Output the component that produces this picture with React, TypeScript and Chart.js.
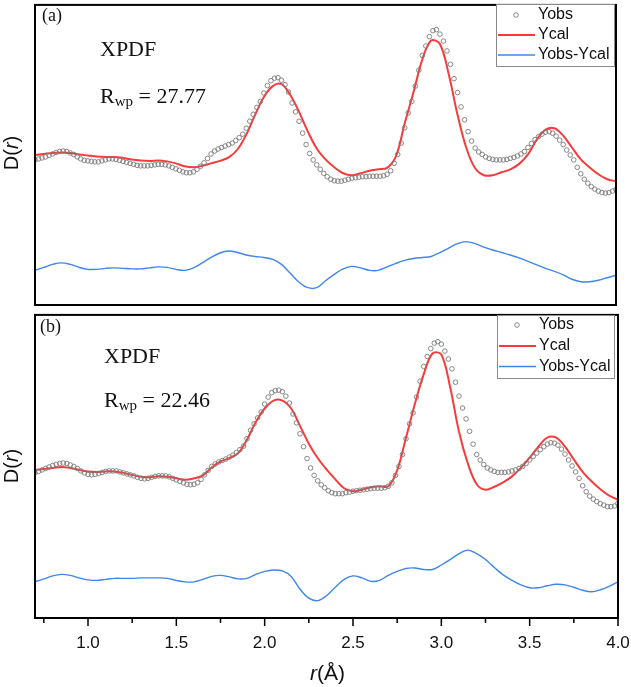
import React, { useEffect, useRef } from "react";
import { Chart, registerables } from "chart.js";

Chart.register(...registerables);

// r sampling (Å) for the fitted curves
const lineR = [
  0.7, 0.75, 0.8, 0.85, 0.9, 0.95, 1.0, 1.05, 1.1, 1.15,
  1.2, 1.25, 1.3, 1.35, 1.4, 1.45, 1.5, 1.55, 1.6, 1.65,
  1.7, 1.75, 1.8, 1.85, 1.9, 1.95, 2.0, 2.05, 2.1, 2.15,
  2.2, 2.25, 2.3, 2.35, 2.4, 2.45, 2.5, 2.55, 2.6, 2.65,
  2.7, 2.75, 2.8, 2.85, 2.9, 2.95, 3.0, 3.05, 3.1, 3.15,
  3.2, 3.25, 3.3, 3.35, 3.4, 3.45, 3.5, 3.55, 3.6, 3.65,
  3.7, 3.75, 3.8, 3.85, 3.9, 3.95, 4.0,
];

// r sampling (Å) for the observed points
const obsR = [
  0.7, 0.72, 0.74, 0.76, 0.78, 0.8, 0.82, 0.84, 0.86, 0.88,
  0.9, 0.92, 0.94, 0.96, 0.98, 1.0, 1.02, 1.04, 1.06, 1.08,
  1.1, 1.12, 1.14, 1.16, 1.18, 1.2, 1.22, 1.24, 1.26, 1.28,
  1.3, 1.32, 1.34, 1.36, 1.38, 1.4, 1.42, 1.44, 1.46, 1.48,
  1.5, 1.52, 1.54, 1.56, 1.58, 1.6, 1.62, 1.64, 1.66, 1.68,
  1.7, 1.72, 1.74, 1.76, 1.78, 1.8, 1.82, 1.84, 1.86, 1.88,
  1.9, 1.92, 1.94, 1.96, 1.98, 2.0, 2.02, 2.04, 2.06, 2.08,
  2.1, 2.12, 2.14, 2.16, 2.18, 2.2, 2.22, 2.24, 2.26, 2.28,
  2.3, 2.32, 2.34, 2.36, 2.38, 2.4, 2.42, 2.44, 2.46, 2.48,
  2.5, 2.52, 2.54, 2.56, 2.58, 2.6, 2.62, 2.64, 2.66, 2.68,
  2.7, 2.72, 2.74, 2.76, 2.78, 2.8, 2.82, 2.84, 2.86, 2.88,
  2.9, 2.92, 2.94, 2.96, 2.98, 3.0, 3.02, 3.04, 3.06, 3.08,
  3.1, 3.12, 3.14, 3.16, 3.18, 3.2, 3.22, 3.24, 3.26, 3.28,
  3.3, 3.32, 3.34, 3.36, 3.38, 3.4, 3.42, 3.44, 3.46, 3.48,
  3.5, 3.52, 3.54, 3.56, 3.58, 3.6, 3.62, 3.64, 3.66, 3.68,
  3.7, 3.72, 3.74, 3.76, 3.78, 3.8, 3.82, 3.84, 3.86, 3.88,
  3.9, 3.92, 3.94, 3.96, 3.98, 4.0,
];

// Panel (a): D(r), arbitrary units (curves offset vertically)
const obsA = [
  146.5, 147.5, 148.5, 149.5, 151, 152.5, 154, 155, 155.5, 155,
  153.5, 152, 149.5, 147.5, 146, 145.5, 145, 144.5, 144.5, 145.5,
  146.5, 147.5, 147.5, 147, 146, 145, 144, 143, 142, 141,
  140.5, 140.5, 140.5, 141, 141.5, 142, 142, 141.5, 140.5, 139,
  137.5, 136, 134.5, 133.5, 133.5, 134.5, 137, 140, 143.5, 148,
  152.5, 155.5, 157.5, 159, 160.5, 162, 163.5, 166, 169, 172.5,
  178.5, 185.5, 192.5, 199.5, 205.5, 214, 221.5, 226.5, 229, 229.5,
  227, 222.5, 215, 204, 195, 185.5, 173.5, 162, 153, 146.5,
  141.5, 137, 133, 129.5, 127, 125.5, 125, 125, 126, 127,
  128, 128.5, 129, 129.5, 129.5, 130, 130, 130, 130, 130.5,
  132, 135.5, 143, 152, 163.5, 179, 194, 205.5, 221, 237,
  252, 261.5, 271, 277, 278, 273.5, 266.5, 256.5, 243, 228.5,
  214.5, 200, 187, 175, 165.5, 158.5, 154.5, 152, 149.5, 148,
  147, 146.5, 146.5, 146.5, 147, 148, 149, 150.5, 152.5, 155,
  159, 163, 167, 170, 172.5, 174.5, 175, 173.5, 170.5, 166.5,
  162, 156.5, 151.5, 146.5, 139, 132.5, 127, 123, 119.5, 117,
  115, 113.5, 113, 113.5, 115, 116.5,
];
const calA = [
  151.5, 152.5, 153.5, 154, 153.5, 152, 151, 150, 149.5, 149.5,
  148.5, 147, 146, 145.5, 146, 145, 143, 140, 139, 140.5,
  143, 145.5, 149, 157, 172, 192, 210, 221, 223, 212,
  195, 175, 158, 147, 139, 133, 131, 133, 135.5, 137,
  138.5, 150, 183.5, 215, 248, 267, 263.5, 233, 192, 158.5,
  138, 131, 131, 134, 137, 142.5, 152, 167, 177, 178.5,
  171, 159, 147, 139, 132, 127, 125,
];
const diffA = [
  35, 38, 41, 42.5, 41, 38, 36, 36, 37, 37.5,
  37, 36.5, 36.5, 37.5, 38.5, 38, 36, 35, 37.5, 42.5,
  48, 52.5, 54.5, 53, 50.5, 49, 48, 46, 41, 32,
  23, 17.5, 17.5, 24.5, 31, 36.5, 39, 37.5, 35, 35,
  38.5, 42, 45, 47, 48, 49, 53, 57.5, 62, 64,
  62, 58.5, 55.5, 53, 50.5, 47.5, 44, 40.5, 37, 34,
  30.5, 26, 23.5, 23.5, 25, 27.5, 30,
];

// Panel (b)
const obsB = [
  146.5, 148, 149.5, 151, 152.5, 154, 155, 156, 156.5, 156,
  154.5, 153, 151, 148.5, 146.5, 145, 144.5, 145, 146, 147,
  148, 148.5, 148.5, 148.5, 147.5, 146.5, 145.5, 144.5, 143.5, 142,
  141, 140.5, 141, 142, 143, 143.5, 143.5, 143.5, 142.5, 141,
  139.5, 138, 136.5, 135, 134.5, 135, 136.5, 140, 144.5, 149,
  153, 155.5, 157.5, 159, 160.5, 162.5, 164.5, 167, 170, 173.5,
  181, 189.5, 196, 202, 208, 216, 223, 227.5, 229.5, 230,
  228.5, 224, 217, 206, 197, 186, 173, 161, 151.5, 144,
  138.5, 134.5, 131.5, 128.5, 126.5, 125.5, 125.5, 125.5, 126.5, 127,
  128, 128.5, 129, 129.5, 130, 130.5, 131, 131, 131, 131.5,
  133, 136.5, 144, 153, 165, 181, 196, 207, 223, 239,
  254, 264, 272, 277.5, 279, 276.5, 269.5, 261.5, 251.5, 238,
  224, 212, 201, 188.5, 175.5, 165, 159.5, 155, 151.5, 149.5,
  148, 147, 147, 147, 147.5, 148.5, 149.5, 151, 153, 156,
  159.5, 163, 166.5, 170, 173, 175.5, 177, 176.5, 174.5, 170.5,
  165.5, 159.5, 153.5, 147.5, 141, 133.5, 127.5, 123, 120, 117.5,
  115.5, 114, 112.5, 112.5, 113, 116,
];
const calB = [
  149.5, 150.5, 151.5, 152.5, 151.5, 149.5, 148, 147.5, 148, 148,
  146.5, 144.5, 142.5, 142, 143, 142.5, 141, 139.5, 141, 144,
  152, 158, 161.5, 166.5, 180, 198, 211.5, 219.5, 219.5, 211.5,
  194, 176, 161.5, 150, 140, 131, 128, 129.5, 132, 133,
  133, 149, 182, 216, 246, 267, 266, 233, 188, 156,
  135, 129.5, 132.5, 137, 143, 151.5, 162, 173, 182, 182,
  173, 160, 147.5, 138, 130, 123.5, 119.5,
];
const diffB = [
  36.5, 39.5, 42.5, 44, 43, 40.5, 38.5, 38, 39, 40,
  40, 40, 40.5, 40.5, 40.5, 40, 38, 36.5, 36.5, 39,
  42, 43, 41.5, 39.5, 40, 44, 47, 48.5, 47.5, 42,
  29, 20, 17.5, 22.5, 31, 39, 42.5, 40.5, 37, 38,
  43, 47, 50, 50.5, 49, 49, 53.5, 59, 65, 68.5,
  65, 59, 51, 43.5, 38, 33.5, 30.5, 30.5, 32.5, 34,
  33.5, 31, 28, 26.5, 28.5, 32, 36.5,
];

const xMajorTicks = [1.0, 1.5, 2.0, 2.5, 3.0, 3.5, 4.0];
const xMinorTicks = [0.75, 1.25, 1.75, 2.25, 2.75, 3.25, 3.75];
const seriesNames = ["Yobs", "Ycal", "Yobs-Ycal"];
const panelTags = ["(a)", "(b)"];
const methodName = "XPDF";
const rwpValues = ["27.77", "22.46"];

const RED = "#F73B3B";
const BLUE = "#3F86EA";
const GREY = "#7a7a7a";
const SERIF = '"Liberation Serif", "Times New Roman", serif';
const SANS = '"Liberation Sans", Arial, sans-serif';

type PanelCfg = {
  top: number;
  height: number;
  padding: { left: number; right: number; top: number; bottom: number };
  yMax: number;
  obs: number[];
  cal: number[];
  diff: number[];
  tag: string;
  rwp: string;
  tagPos: [number, number];
  namePos: [number, number];
  rwpPos: [number, number];
  legendBox: [number, number, number, number];
  legendRows: [number, number, number];
  yTitleY: number;
  showAxis: boolean;
};

const panels: PanelCfg[] = [
  {
    top: 0,
    height: 310,
    padding: { left: 35, right: 15, top: 2, bottom: 5 },
    yMax: 303,
    obs: obsA,
    cal: calA,
    diff: diffA,
    tag: panelTags[0],
    rwp: rwpValues[0],
    tagPos: [42, 21],
    namePos: [100, 56],
    rwpPos: [100, 103],
    legendBox: [496, 4, 118, 62],
    legendRows: [15, 35, 55],
    yTitleY: 153,
    showAxis: false,
  },
  {
    top: 310,
    height: 377,
    padding: { left: 35, right: 13, top: 2, bottom: 69 },
    yMax: 306,
    obs: obsB,
    cal: calB,
    diff: diffB,
    tag: panelTags[1],
    rwp: rwpValues[1],
    tagPos: [40, 22],
    namePos: [104, 53],
    rwpPos: [104, 97],
    legendBox: [497, 5, 117, 63],
    legendRows: [15, 36, 56.5],
    yTitleY: 156,
    showAxis: true,
  },
];

// Draws text pieces left to right, each with its own font and baseline shift
function drawRuns(
  ctx: CanvasRenderingContext2D,
  runs: { text: string; font: string; dy?: number }[],
  x: number,
  y: number,
  align: "left" | "center"
) {
  let total = 0;
  for (const r of runs) {
    ctx.font = r.font;
    total += ctx.measureText(r.text).width;
  }
  let cx = align === "center" ? x - total / 2 : x;
  ctx.textAlign = "left";
  for (const r of runs) {
    ctx.font = r.font;
    ctx.fillText(r.text, cx, y + (r.dy || 0));
    cx += ctx.measureText(r.text).width;
  }
}

function makeDecorations(cfg: PanelCfg) {
  return {
    id: "panelDecorations",
    afterDraw(chart: any) {
      const ctx: CanvasRenderingContext2D = chart.ctx;
      const { left, right, top, bottom } = chart.chartArea;
      const xs = chart.scales.x;
      ctx.save();

      // frame
      ctx.strokeStyle = "#000";
      ctx.lineWidth = 2;
      ctx.strokeRect(left, top, right - left, bottom - top);

      // in-plot annotations
      ctx.fillStyle = "#111";
      ctx.textBaseline = "alphabetic";
      drawRuns(ctx, [{ text: cfg.tag, font: `18px ${SERIF}` }], cfg.tagPos[0], cfg.tagPos[1], "left");
      drawRuns(ctx, [{ text: methodName, font: `22px ${SERIF}` }], cfg.namePos[0], cfg.namePos[1], "left");
      drawRuns(
        ctx,
        [
          { text: "R", font: `22px ${SERIF}` },
          { text: "wp", font: `15px ${SERIF}`, dy: 3 },
          { text: " = " + cfg.rwp, font: `22px ${SERIF}` },
        ],
        cfg.rwpPos[0],
        cfg.rwpPos[1],
        "left"
      );

      // legend
      const [lx, ly, lw, lh] = cfg.legendBox;
      ctx.fillStyle = "#fff";
      ctx.fillRect(lx, ly, lw, lh);
      ctx.strokeStyle = "#8a8a8a";
      ctx.lineWidth = 1;
      ctx.strokeRect(lx + 0.5, ly + 0.5, lw, lh);
      const [r0, r1, r2] = cfg.legendRows;
      ctx.strokeStyle = GREY;
      ctx.lineWidth = 0.9;
      ctx.beginPath();
      ctx.arc(lx + 20, r0, 2.3, 0, Math.PI * 2);
      ctx.stroke();
      ctx.strokeStyle = RED;
      ctx.lineWidth = 2;
      ctx.beginPath();
      ctx.moveTo(lx + 2, r1);
      ctx.lineTo(lx + 39, r1);
      ctx.stroke();
      ctx.strokeStyle = BLUE;
      ctx.lineWidth = 1.4;
      ctx.beginPath();
      ctx.moveTo(lx + 2, r2);
      ctx.lineTo(lx + 39, r2);
      ctx.stroke();
      ctx.fillStyle = "#111";
      ctx.textBaseline = "middle";
      ctx.font = `16px ${SANS}`;
      ctx.textAlign = "left";
      ctx.fillText(seriesNames[0], lx + 42, r0);
      ctx.fillText(seriesNames[1], lx + 42, r1);
      ctx.fillText(seriesNames[2], lx + 42, r2);

      // y title D(r), italic r
      ctx.save();
      ctx.translate(12, cfg.yTitleY);
      ctx.rotate(-Math.PI / 2);
      ctx.textBaseline = "middle";
      drawRuns(
        ctx,
        [
          { text: "D(", font: `20px ${SANS}` },
          { text: "r", font: `italic 20px ${SANS}` },
          { text: ")", font: `20px ${SANS}` },
        ],
        0,
        0,
        "center"
      );
      ctx.restore();

      if (cfg.showAxis) {
        ctx.strokeStyle = "#000";
        ctx.lineWidth = 1.5;
        ctx.beginPath();
        for (const v of xMajorTicks) {
          const px = xs.getPixelForValue(v);
          ctx.moveTo(px, bottom);
          ctx.lineTo(px, bottom + 8);
        }
        for (const v of xMinorTicks) {
          const px = xs.getPixelForValue(v);
          ctx.moveTo(px, bottom);
          ctx.lineTo(px, bottom + 5);
        }
        ctx.stroke();

        ctx.fillStyle = "#111";
        ctx.textBaseline = "alphabetic";
        ctx.textAlign = "center";
        ctx.font = `17px ${SANS}`;
        for (const v of xMajorTicks) {
          ctx.fillText(v.toFixed(1), xs.getPixelForValue(v), bottom + 30);
        }
        drawRuns(
          ctx,
          [
            { text: "r", font: `italic 21px ${SANS}` },
            { text: "(Å)", font: `21px ${SANS}` },
          ],
          (left + right) / 2 + 1,
          bottom + 62,
          "center"
        );
      }
      ctx.restore();
    },
  };
}

function Panel({ cfg }: { cfg: PanelCfg }) {
  const ref = useRef<HTMLCanvasElement | null>(null);
  useEffect(() => {
    if (!ref.current) return;
    const chart = new Chart(ref.current, {
      type: "scatter",
      data: {
        datasets: [
          {
            label: seriesNames[0],
            data: obsR.map((r, i) => ({ x: r, y: cfg.obs[i] })),
            showLine: false,
            pointRadius: 2.3,
            pointBorderWidth: 0.9,
            pointBorderColor: GREY,
            pointBackgroundColor: "rgba(0,0,0,0)",
            order: 0,
          },
          {
            label: seriesNames[1],
            data: lineR.map((r, i) => ({ x: r, y: cfg.cal[i] })),
            showLine: true,
            borderColor: RED,
            borderWidth: 2,
            pointRadius: 0,
            tension: 0.35,
            order: 1,
          },
          {
            label: seriesNames[2],
            data: lineR.map((r, i) => ({ x: r, y: cfg.diff[i] })),
            showLine: true,
            borderColor: BLUE,
            borderWidth: 1.4,
            pointRadius: 0,
            tension: 0.35,
            order: 2,
          },
        ],
      },
      options: {
        animation: false,
        responsive: false,
        devicePixelRatio: 1,
        layout: { padding: cfg.padding },
        plugins: {
          legend: { display: false },
          tooltip: { enabled: false },
        },
        scales: {
          x: { type: "linear", min: 0.7, max: 4.0, display: false },
          y: { type: "linear", min: 0, max: cfg.yMax, display: false },
        },
      },
      plugins: [makeDecorations(cfg)],
    });
    return () => chart.destroy();
  }, [cfg]);
  return (
    <canvas
      ref={ref}
      width={631}
      height={cfg.height}
      style={{ position: "absolute", left: 0, top: cfg.top, display: "block" }}
    />
  );
}

export default function App() {
  return (
    <div
      style={{
        position: "absolute",
        left: 0,
        top: 0,
        width: 631,
        height: 687,
        background: "#fff",
        overflow: "hidden",
      }}
    >
      {panels.map((p, i) => (
        <Panel key={i} cfg={p} />
      ))}
    </div>
  );
}
